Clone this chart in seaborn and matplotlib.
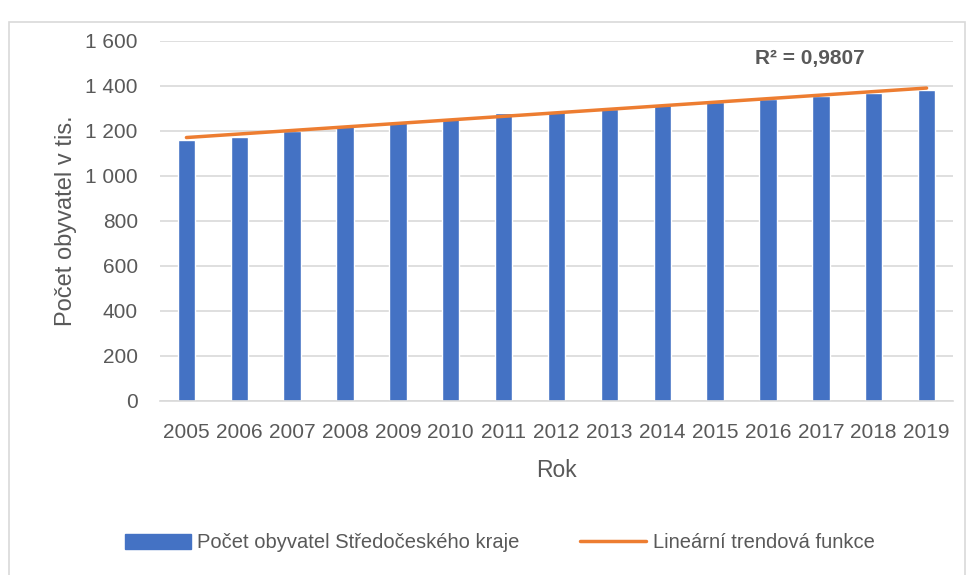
import numpy as np
import pandas as pd
import seaborn as sns
import matplotlib.pyplot as plt
from matplotlib.lines import Line2D
from matplotlib.patches import Patch

years = [2005, 2006, 2007, 2008, 2009, 2010, 2011, 2012,
         2013, 2014, 2015, 2016, 2017, 2018, 2019]
population = [1158, 1175, 1199, 1224, 1242, 1258, 1278, 1288,
              1298, 1314, 1328, 1342, 1356, 1370, 1384]
yTicks = [0, 200, 400, 600, 800, 1000, 1200, 1400, 1600]
yTickLabels = ["0", "200", "400", "600", "800", "1 000", "1 200", "1 400", "1 600"]
r2Text = "R² = 0,9807"

df = pd.DataFrame({"rok": [str(y) for y in years], "pocet": population})

sns.set_style("white")
plt.rcParams["font.family"] = ["Liberation Sans", "DejaVu Sans"]

textColor = "#595959"
barColor = "#4472C4"
lineColor = "#ED7D31"

fig = plt.figure(figsize=(9.7, 5.75), dpi=100)
ax = fig.add_axes([160 / 970, 1 - 401 / 575, (953 - 160) / 970, (401 - 41) / 575])

sns.barplot(data=df, x="rok", y="pocet", color=barColor, width=0.33,
            saturation=1, ax=ax)

# linearni trend pres indexy kategorii
xIdx = np.arange(len(years))
coef = np.polyfit(xIdx, population, 1)
ax.plot(xIdx, np.polyval(coef, xIdx), color=lineColor, linewidth=2.5)

ax.set_ylim(0, 1600)
ax.set_xlim(-0.5, len(years) - 0.5)
ax.set_yticks(yTicks)
ax.set_yticklabels(yTickLabels)
ax.yaxis.grid(True, color="#D9D9D9", linewidth=1.2)
ax.set_axisbelow(True)
for s in ["top", "right", "left"]:
    ax.spines[s].set_visible(False)
ax.spines["bottom"].set_color("#D9D9D9")
ax.spines["bottom"].set_linewidth(1.2)
ax.tick_params(axis="both", length=0, labelsize=15, colors=textColor, pad=16)
ax.tick_params(axis="x", pad=16)

ax.set_xlabel("Rok", fontsize=16.5, color=textColor, labelpad=12)
ax.set_ylabel("Počet obyvatel v tis.", fontsize=17, color=textColor, labelpad=6)

ax.text(0.82, 0.95, r2Text, transform=ax.transAxes, fontsize=15,
        fontweight="bold", color=textColor, ha="center", va="center")

handles = [Patch(facecolor=barColor, edgecolor=barColor),
           Line2D([0], [0], color=lineColor, linewidth=2.5)]
fig.legend(handles, ["Počet obyvatel Středočeského kraje", "Lineární trendová funkce"],
           loc="center", bbox_to_anchor=(0.515, 1 - 543 / 575), ncol=2, frameon=False,
           fontsize=14.5, labelcolor=textColor, handlelength=3.3, handletextpad=0.3,
           columnspacing=3.0)

# ramecek grafu
fig.add_artist(plt.Rectangle((9 / 970, -0.05), 956 / 970, 1 - 22 / 575 + 0.05,
                             transform=fig.transFigure, fill=False,
                             edgecolor="#D9D9D9", linewidth=1.2))

fig.savefig("out.png", dpi=100, facecolor="white")
